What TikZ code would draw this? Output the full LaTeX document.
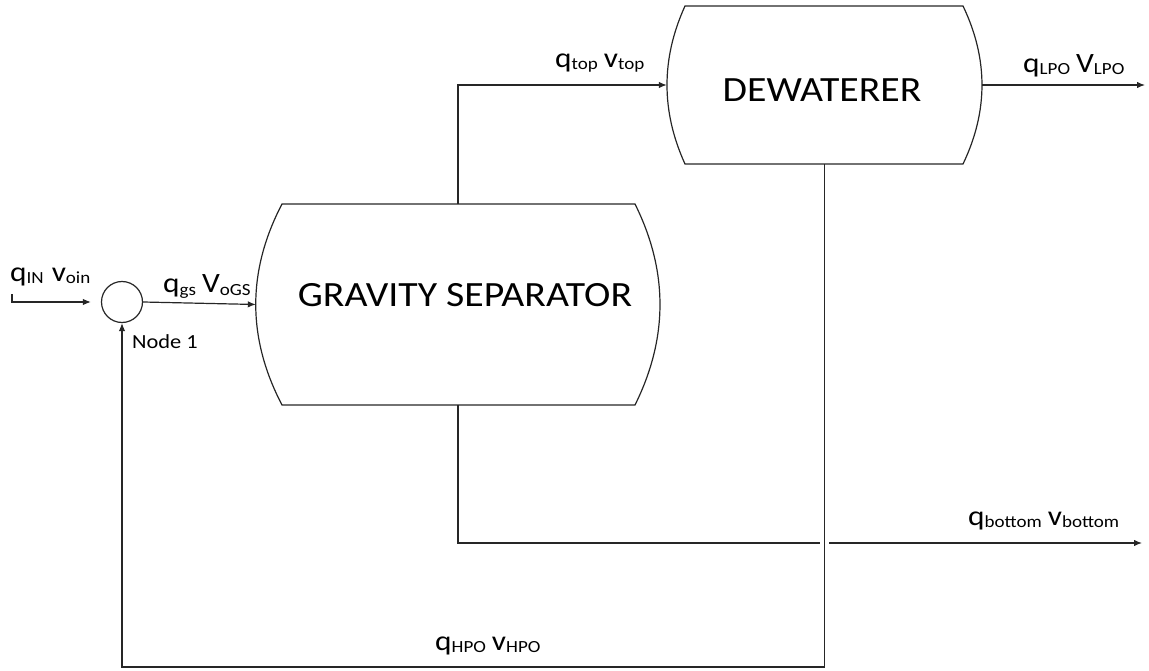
\documentclass[tikz,border=0pt]{standalone}
\usepackage{fontspec}
\setmainfont{Carlito}[FakeStretch=1.12]
\usetikzlibrary{arrows.meta,calc}
\newcommand{\flw}[2]{{\fontsize{28}{28}\selectfont #1}\raisebox{-2pt}{\fontsize{17}{17}\selectfont #2}}
\begin{document}
\begin{tikzpicture}[x=1pt,y=-1pt,
  conn/.style={draw=black!85, line width=1.2pt},
  arr/.style={conn,-{Latex[length=8pt,width=6.5pt]}},
  vesselbox/.style={draw=none, inner sep=0pt},
  bigtxt/.style={inner sep=0pt, font=\fontsize{35.5}{35.5}\selectfont},
  lbl/.style={anchor=base west, inner sep=0pt}]
\useasboundingbox (0,0) rectangle (1149,671);
% vessels
\node[vesselbox, minimum width=404pt, minimum height=201pt] (gs) at (458,304.5) {};
\node[vesselbox, minimum width=315pt, minimum height=158pt] (dw) at (824.5,85) {};
\draw[conn] (282,204) -- (635,204) .. controls (668.3,271) and (668.3,338) .. (635,405) -- (282,405) .. controls (247,338) and (247,271) .. cycle;
\draw[conn] (685,6) -- (963,6) .. controls (988.3,58.7) and (988.3,111.3) .. (963,164) -- (685,164) .. controls (661,111.3) and (661,58.7) .. cycle;
\node[bigtxt] (gstxt) at (465,295) {GRAVITY SEPARATOR};
\node[bigtxt] (dwtxt) at (822,90) {DEWATERER};
% mixing node
\node[draw=black!85, line width=1.2pt, circle, minimum size=41pt, inner sep=0pt] (n1) at (122,302) {};
\node[lbl, font=\fontsize{20}{20}\selectfont] (n1lbl) at (132,348) {Node 1};
% coordinates
\coordinate (inA) at (12,294);
\coordinate (inB) at (12,302);
\coordinate (gapL) at (820,543);
\coordinate (gapR) at (829,543);
\coordinate (botend) at (1142,543);
\coordinate (lpo) at (1145,85);
\coordinate (fbR) at (824.5,667);
\coordinate (fbL) at (122,667);
% connectors
\draw[arr, shorten >=10pt] (inA) -- (inB) -- (n1.west);
\draw[arr] (n1.east) -- (gs.west);
\draw[arr] (gs.north) |- (dw.west);
\draw[conn] (gs.south) |- (gapL);
\draw[arr] (gapR) -- (botend);
\draw[arr] (dw.east) -- (lpo);
\draw[arr] (dw.south) -- (fbR) -- (fbL) -- (n1.south);
% labels
\node[lbl] (lin) at (10,281) {\flw{q}{IN}\hspace{8pt}\flw{v}{oin}};
\node[lbl] (lgs) at (163,293) {\flw{q}{gs}\hspace{6pt}\flw{V}{oGS}};
\node[lbl] (ltop) at (555,68) {\flw{q}{top}\hspace{6pt}\flw{v}{top}};
\node[lbl] (llpo) at (1023,73) {\flw{q}{LPO}\hspace{6pt}\flw{V}{LPO}};
\node[lbl] (lbot) at (968,525) {\flw{q}{bottom}\hspace{6pt}\flw{v}{bottom}};
\node[lbl] (lhpo) at (435,650) {\flw{q}{HPO}\hspace{6pt}\flw{v}{HPO}};
\end{tikzpicture}
\end{document}
